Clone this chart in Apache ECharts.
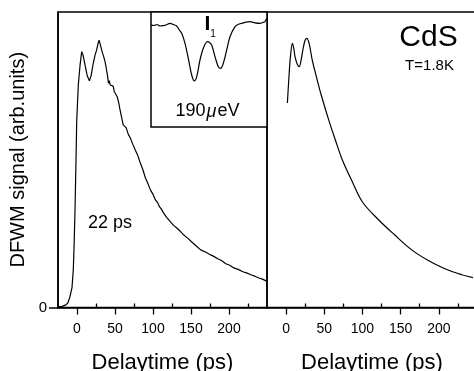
<!DOCTYPE html>
<html>
<head>
<meta charset="utf-8">
<script src="https://cdn.jsdelivr.net/npm/echarts@6/dist/echarts.min.js"></script>
<style>
html,body{margin:0;padding:0;background:#fff;}
#chart{width:474px;height:371px;}
</style>
</head>
<body>
<div id="chart"></div>
<script>
// ---- data ----
const xMajorTicks = [0, 50, 100, 150, 200];
const xMinorTicks = [25, 75, 125, 175, 225];
const yTicks = [0];

// measured DFWM signal (left panel): delay (ps) and signal (arb. units)
const measuredDelay = [-25, -22.5, -19.8, -17.2, -14.6, -11.9, -9.3, -6.6, -4.9, -4, -2.6, -1.3, -0.4, 1.7, 4, 6.2, 7.9, 10.6, 13.2, 16.3, 18.5, 21.2, 23.8, 25.8, 27.8, 29.1, 30.4, 33.1, 35, 37, 39, 40.2, 41.4, 42.5, 43.7, 44.8, 45.9, 47.6, 49, 50.3, 52.9, 55, 56.9, 60.8, 62.5, 64.8, 67.5, 70.1, 73.5, 76.7, 80, 83.3, 86.5, 89.9, 93, 96.6, 100, 103.2, 106, 108.5, 111, 113.8, 118, 123, 127, 131, 135.5, 140.2, 146, 152.1, 157, 162.7, 169, 175.9, 180, 185.2, 190, 195.8, 201, 206.3, 212, 218.3, 223, 228.8, 234, 239.4, 244, 248.7];
const measuredSignal = [0.2, 0.3, 0.4, 0.6, 0.9, 1.6, 3.6, 6.7, 12.7, 19.5, 33, 50, 62.9, 75.3, 82, 86.6, 85.5, 82, 78.7, 76.7, 78.4, 82.4, 85.5, 87.1, 89.5, 90.5, 89.2, 86.5, 85, 83.1, 80.2, 78.4, 75.9, 76.8, 75.3, 75.9, 74.7, 74.9, 73.1, 73.6, 71.3, 69.2, 66.5, 61.8, 61.3, 60.8, 58.6, 57.4, 55.2, 53.3, 51.4, 48.9, 46.8, 43.9, 42.1, 39.8, 38.3, 36.4, 35.5, 34.1, 33.3, 32.0, 30.5, 29.0, 27.8, 27.0, 25.9, 24.6, 23.4, 21.9, 20.8, 19.5, 18.8, 17.8, 17.3, 16.5, 15.9, 14.8, 14.3, 13.4, 12.9, 12.1, 11.7, 11.1, 10.6, 10.0, 9.6, 9.0];

// calculated signal (right panel)
const fitDelay = [1.7, 3.9, 5.9, 8.3, 10, 11.8, 14.5, 17.1, 19.7, 22.4, 25, 27.2, 30.3, 34.2, 39.1, 46, 56.6, 64.5, 73.7, 85.5, 100, 121, 142, 164.5, 186.8, 208, 230, 244.7];
const fitSignal = [69.2, 78.7, 85.5, 89.4, 87.8, 84.8, 82.4, 81.5, 83.8, 87.8, 90.5, 91.1, 89.2, 83.8, 78.7, 71.9, 62.8, 56.7, 49.9, 43.2, 35.7, 29.7, 24.6, 19.5, 15.8, 13.1, 11.1, 10.1];

// inset: spectrum (arbitrary energy axis, arbitrary signal)
const insetEnergy = [0, 3, 6, 9, 12, 15, 19, 22, 25.7, 28, 30.7, 34, 37.3, 40.7, 43.3, 45.7, 49, 52.3, 56.3, 58.5, 60.7, 64, 67.3, 69.7, 72.3, 75.7, 79, 84, 87, 90.7, 95, 99, 104, 109, 112, 114, 115.7];
const insetSignal = [102, 101.5, 102.5, 101, 101.3, 102, 103.7, 102.6, 101, 97.5, 93.7, 83.7, 68.7, 52, 46, 50.3, 67, 78.7, 85.3, 84.6, 82, 70.3, 60.3, 58.7, 63.7, 77, 90.3, 100.3, 102.5, 103.7, 104.8, 105.3, 104.2, 103.7, 104.6, 105.3, 108.7];

const labels = {
  xTitle: 'Delaytime (ps)',
  yTitle: 'DFWM signal (arb.units)',
  decay: '22 ps',
  material: 'CdS',
  temperature: 'T=1.8K',
  splitting: '190',
  splittingUnit: 'eV'
};

// ---- chart ----
const FONT = '"Liberation Sans", Arial, sans-serif';
const BLACK = '#000';
const zip = (a, b) => a.map((v, i) => [v, b[i]]);

function mainX(grid) {
  return {
    type: 'value', gridIndex: grid, min: -25, max: 250,
    name: labels.xTitle, nameLocation: 'middle', nameGap: 44,
    nameTextStyle: { fontFamily: FONT, fontSize: 22, color: BLACK },
    axisLine: { show: true, onZero: false, lineStyle: { color: BLACK, width: 1.5 } },
    axisTick: { show: true, customValues: xMajorTicks, length: 7, lineStyle: { color: BLACK, width: 1.3 } },
    axisLabel: { show: true, customValues: xMajorTicks, margin: 15, fontFamily: FONT, fontSize: 14, color: BLACK },
    splitLine: { show: false }
  };
}
function minorX(grid) {
  return {
    type: 'value', gridIndex: grid, min: -25, max: 250,
    axisLine: { show: false },
    axisTick: { show: true, customValues: xMinorTicks, length: 4, lineStyle: { color: BLACK, width: 1.3 } },
    axisLabel: { show: false },
    splitLine: { show: false }
  };
}
const gridBase = { show: true, borderColor: BLACK, borderWidth: 1.5, containLabel: false, outerBoundsMode: 'none' };

const option = {
  backgroundColor: '#fff',
  animation: false,
  grid: [
    Object.assign({ left: 58, top: 12, width: 209, height: 295.5, backgroundColor: 'transparent' }, gridBase),
    Object.assign({ left: 267, top: 12, width: 210, height: 295.5, backgroundColor: 'transparent' }, gridBase),
    Object.assign({ left: 151, top: 12, width: 116, height: 115, backgroundColor: '#fff' }, gridBase)
  ],
  xAxis: [
    mainX(0), minorX(0), mainX(1), minorX(1),
    { type: 'value', gridIndex: 2, min: 0, max: 116, show: false }
  ],
  yAxis: [
    {
      type: 'value', gridIndex: 0, min: 0, max: 100,
      name: labels.yTitle, nameLocation: 'middle', nameGap: 30,
      nameTextStyle: { fontFamily: FONT, fontSize: 20, color: BLACK },
      axisLine: { show: true, onZero: false, lineStyle: { color: BLACK, width: 1.5 } },
      axisTick: { show: true, customValues: yTicks, length: 9, lineStyle: { color: BLACK, width: 1.5 } },
      axisLabel: { show: true, customValues: yTicks, margin: 11, verticalAlignMinLabel: 'middle', fontFamily: FONT, fontSize: 15, color: BLACK },
      splitLine: { show: false }
    },
    { type: 'value', gridIndex: 1, min: 0, max: 100, axisLine: { show: false }, axisTick: { show: false }, axisLabel: { show: false }, splitLine: { show: false } },
    { type: 'value', gridIndex: 2, min: 0, max: 115, show: false }
  ],
  series: [
    { type: 'line', xAxisIndex: 0, yAxisIndex: 0, data: zip(measuredDelay, measuredSignal), showSymbol: false, lineStyle: { color: BLACK, width: 1.2 }, z: 3 },
    { type: 'line', xAxisIndex: 2, yAxisIndex: 1, data: zip(fitDelay, fitSignal), showSymbol: false, smooth: 0.35, lineStyle: { color: BLACK, width: 1.2 }, z: 3 },
    { type: 'line', xAxisIndex: 4, yAxisIndex: 2, data: zip(insetEnergy, insetSignal), showSymbol: false, smooth: 0.3, lineStyle: { color: BLACK, width: 1.2 }, z: 5 }
  ],
  graphic: [
    { type: 'text', left: 88, top: 214, z: 10, style: { text: labels.decay, fontFamily: FONT, fontSize: 18, fill: BLACK } },
    { type: 'text', x: 428.5, y: 38, z: 10, style: { text: labels.material, fontFamily: FONT, fontSize: 30, fill: BLACK, align: 'center', verticalAlign: 'middle' } },
    { type: 'text', x: 429.5, y: 65.5, z: 10, style: { text: labels.temperature, fontFamily: FONT, fontSize: 15, fill: BLACK, align: 'center', verticalAlign: 'middle' } },
    { type: 'text', x: 207.5, y: 111.5, z: 10, style: {
        text: '{n|' + labels.splitting + '}{m|\u03bc}{n|' + labels.splittingUnit + '}',
        align: 'center', verticalAlign: 'middle',
        rich: {
          n: { fontFamily: FONT, fontSize: 18, fill: BLACK, color: BLACK },
          m: { fontFamily: FONT, fontSize: 18, fontStyle: 'italic', fill: BLACK, color: BLACK, padding: [0, 1, 0, 1] }
        } } },
    { type: 'text', x: 207.5, y: 24.5, z: 10, style: { text: 'I', fontFamily: FONT, fontSize: 21, fontWeight: 'bold', fill: BLACK, align: 'center', verticalAlign: 'middle' } },
    { type: 'text', x: 213, y: 34, z: 10, style: { text: '1', fontFamily: FONT, fontSize: 10, fill: BLACK, align: 'center', verticalAlign: 'middle' } }
  ]
};

const chart = echarts.init(document.getElementById('chart'), null, { renderer: 'canvas' });
chart.setOption(option);
</script>
</body>
</html>
